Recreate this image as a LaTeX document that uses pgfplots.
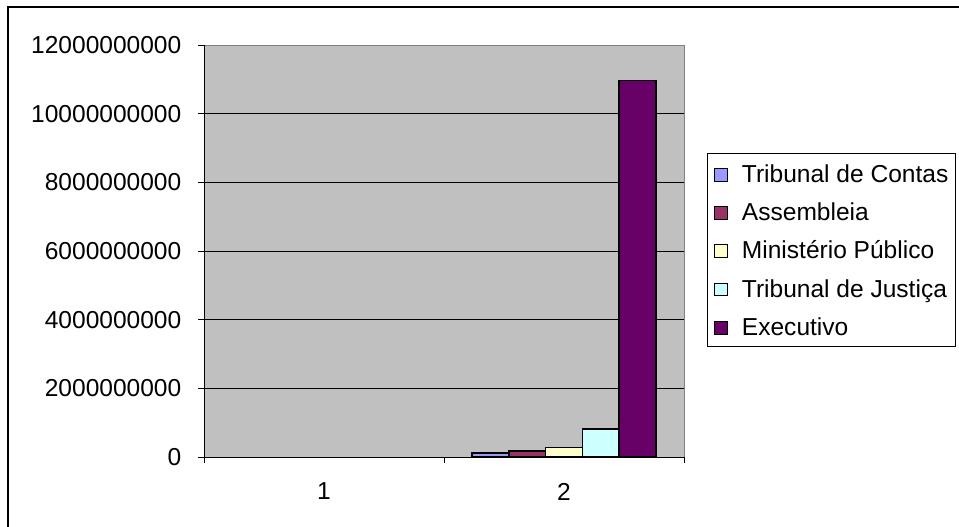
\documentclass[border=0pt]{standalone}
\usepackage{fontspec}
\setmainfont{Liberation Sans}
\usepackage{pgfplots}
\pgfplotsset{compat=1.18}
\definecolor{plotgray}{HTML}{C0C0C0}
\definecolor{framegray}{HTML}{808080}
\definecolor{tcontas}{HTML}{9999FF}
\definecolor{assemb}{HTML}{993366}
\definecolor{mpub}{HTML}{FFFFCC}
\definecolor{tjust}{HTML}{CCFFFF}
\definecolor{exec}{HTML}{660066}

\begin{document}
\begin{tikzpicture}[font=\fontsize{18.4}{22}\selectfont]
\useasboundingbox (0,0) rectangle (719.25pt,394.5pt);
% chart frame (top and left edges)
\draw[line width=1.5pt] (6pt,-5pt) -- (6pt,389.5pt) -- (730pt,389.5pt);
\begin{axis}[
  at={(153pt,51.75pt)}, anchor=south west,
  scale only axis, width=360pt, height=309pt,
  axis lines=left, axis line style={-, line width=0.75pt, black},
  axis background/.style={fill=plotgray, draw=framegray, line width=0.75pt},
  ybar=0pt, bar width=27.6pt,
  xmin=0.5, xmax=2.5, ymin=0, ymax=12e9,
  xtick={0.5,1.5,2.5}, xticklabels={},
  extra x ticks={1,2}, extra x tick labels={1,2},
  extra x tick style={major tick length=0pt, xticklabel style={yshift=-16pt}},
  ytick={0,2e9,4e9,6e9,8e9,10e9},
  extra y ticks={12e9}, extra y tick style={grid=none},
  ymajorgrids, grid style={black, line width=0.75pt},
  tick align=outside, major tick length=4.5pt,
  tick style={black, line width=0.75pt},
  scaled y ticks=false,
  /pgf/number format/fixed, /pgf/number format/precision=0,
  /pgf/number format/1000 sep={},
  /pgf/number format/assume math mode=true,
  yticklabel style={xshift=-9pt},
  legend style={at={(1.0479,0.7379)}, anchor=north west,
    draw=black, line width=0.75pt, fill=white,
    inner xsep=5.25pt, inner ysep=5.4pt,
    nodes={inner xsep=0pt, inner ysep=0pt, text height=16.2pt, text depth=3pt},
    row sep=9.5pt, column sep=10.5pt,
    font=\fontsize{18.4}{22}\selectfont},
  legend cell align=left,
  sq/.style={legend image code/.code={
    \draw[##1, draw=black, line width=0.6pt] (0pt,-5.6pt) rectangle (9.5pt,3.9pt);}},
]
\addplot[fill=tcontas, draw=black, line width=1.1pt, sq] coordinates {(2,120000000)};
\addplot[fill=assemb, draw=black, line width=1.1pt, sq] coordinates {(2,170000000)};
\addplot[fill=mpub, draw=black, line width=1.1pt, sq] coordinates {(2,280000000)};
\addplot[fill=tjust, draw=black, line width=1.1pt, sq] coordinates {(2,810000000)};
\addplot[fill=exec, draw=black, line width=1.1pt, sq] coordinates {(2,10960000000)};
\legend{Tribunal de Contas, Assembleia, Ministério Público, Tribunal de Justiça, Executivo}
\end{axis}
\end{tikzpicture}
\end{document}
